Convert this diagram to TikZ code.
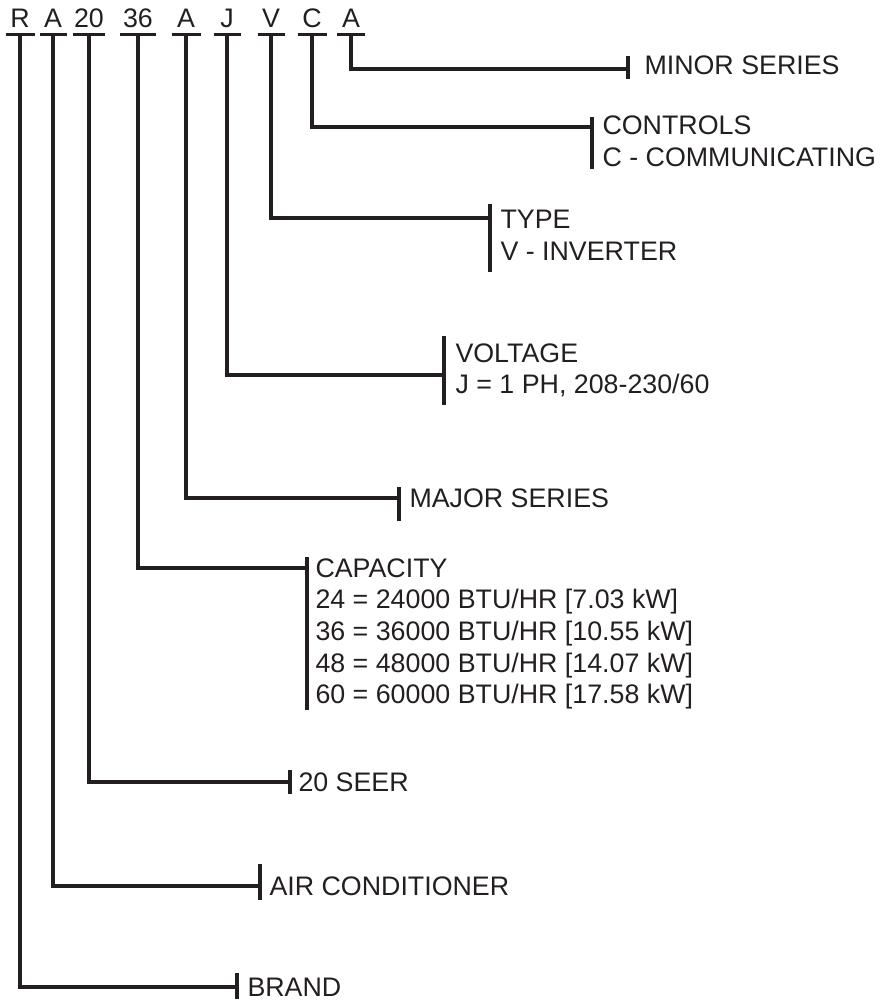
\documentclass[tikz,border=0pt]{standalone}
\usepackage{fontspec}
\setmainfont{Liberation Sans}
\definecolor{ink}{HTML}{231F20}
\begin{document}
\begin{tikzpicture}[x=1pt,y=-1pt,
  line width=3pt, draw=ink,
  code/.style={anchor=base, inner xsep=0pt, inner ysep=5pt, text=ink, font=\fontsize{26.8}{31}\selectfont},
  lbl/.style={anchor=base west, inner sep=0pt, text=ink, font=\fontsize{26.8}{31}\selectfont},
  wire/.style={draw=ink, line width=3.2pt},
  tick/.style={draw=ink, line width=3.6pt}]
\useasboundingbox (0,0) rectangle (881,1000);
% code letters
\node[code, minimum width=26pt] (c1) at (20,28) {R};
\node[code, minimum width=24pt] (c2) at (53,28) {A};
\node[code, minimum width=25pt] (c3) at (89,28) {20};
\node[code, minimum width=33pt] (c4) at (138,28) {36};
\node[code, minimum width=26pt] (c5) at (186,28) {A};
\node[code, minimum width=24pt] (c6) at (227,28) {J};
\node[code, minimum width=24pt] (c7) at (271,28) {V};
\node[code, minimum width=26pt] (c8) at (312,28) {C};
\node[code, minimum width=25pt] (c9) at (351,28) {A};
\foreach \i in {1,...,9} {\draw[wire] (c\i.south west) -- (c\i.south east);}
% tick coordinates
\coordinate (t9) at (628,69);  \coordinate (t9a) at (628,56);  \coordinate (t9b) at (628,79);
\coordinate (t8) at (592,127); \coordinate (t8a) at (592,117); \coordinate (t8b) at (592,169);
\coordinate (t7) at (490,218); \coordinate (t7a) at (490,204); \coordinate (t7b) at (490,272);
\coordinate (t6) at (444,375); \coordinate (t6a) at (444,336); \coordinate (t6b) at (444,405);
\coordinate (t5) at (399,498); \coordinate (t5a) at (399,487); \coordinate (t5b) at (399,521);
\coordinate (t4) at (307,568); \coordinate (t4a) at (307,557); \coordinate (t4b) at (307,710);
\coordinate (t3) at (290,782); \coordinate (t3a) at (290,770); \coordinate (t3b) at (290,794);
\coordinate (t2) at (260,886); \coordinate (t2a) at (260,864); \coordinate (t2b) at (260,900);
\coordinate (t1) at (237,987); \coordinate (t1a) at (237,973); \coordinate (t1b) at (237,999);
\foreach \i in {1,...,9} {
  \draw[wire] (c\i.south) |- (t\i);
  \draw[tick] (t\i a) -- (t\i b);
}
% labels
\node[lbl] (l9) at (643,75) {MINOR SERIES};
\node[lbl] (l8) at (601,135) {CONTROLS};
\node[lbl] (l8b) at (601,167) {C - COMMUNICATING};
\node[lbl] (l7) at (499,229) {TYPE};
\node[lbl] (l7b) at (499,260) {V - INVERTER};
\node[lbl] (l6) at (454,362) {VOLTAGE};
\node[lbl] (l6b) at (454,393) {J = 1 PH, 208-230/60};
\node[lbl] (l5) at (408,507) {MAJOR SERIES};
\node[lbl] (l4) at (314,577) {CAPACITY};
\node[lbl] (l4b) at (314,608) {24 = 24000 BTU/HR [7.03 kW]};
\node[lbl] (l4c) at (314,640) {36 = 36000 BTU/HR [10.55 kW]};
\node[lbl] (l4d) at (314,672) {48 = 48000 BTU/HR [14.07 kW]};
\node[lbl] (l4e) at (314,703) {60 = 60000 BTU/HR [17.58 kW]};
\node[lbl] (l3) at (297,791) {20 SEER};
\node[lbl] (l2) at (268,895) {AIR CONDITIONER};
\node[lbl] (l1) at (246,996) {BRAND};
\end{tikzpicture}
\end{document}
